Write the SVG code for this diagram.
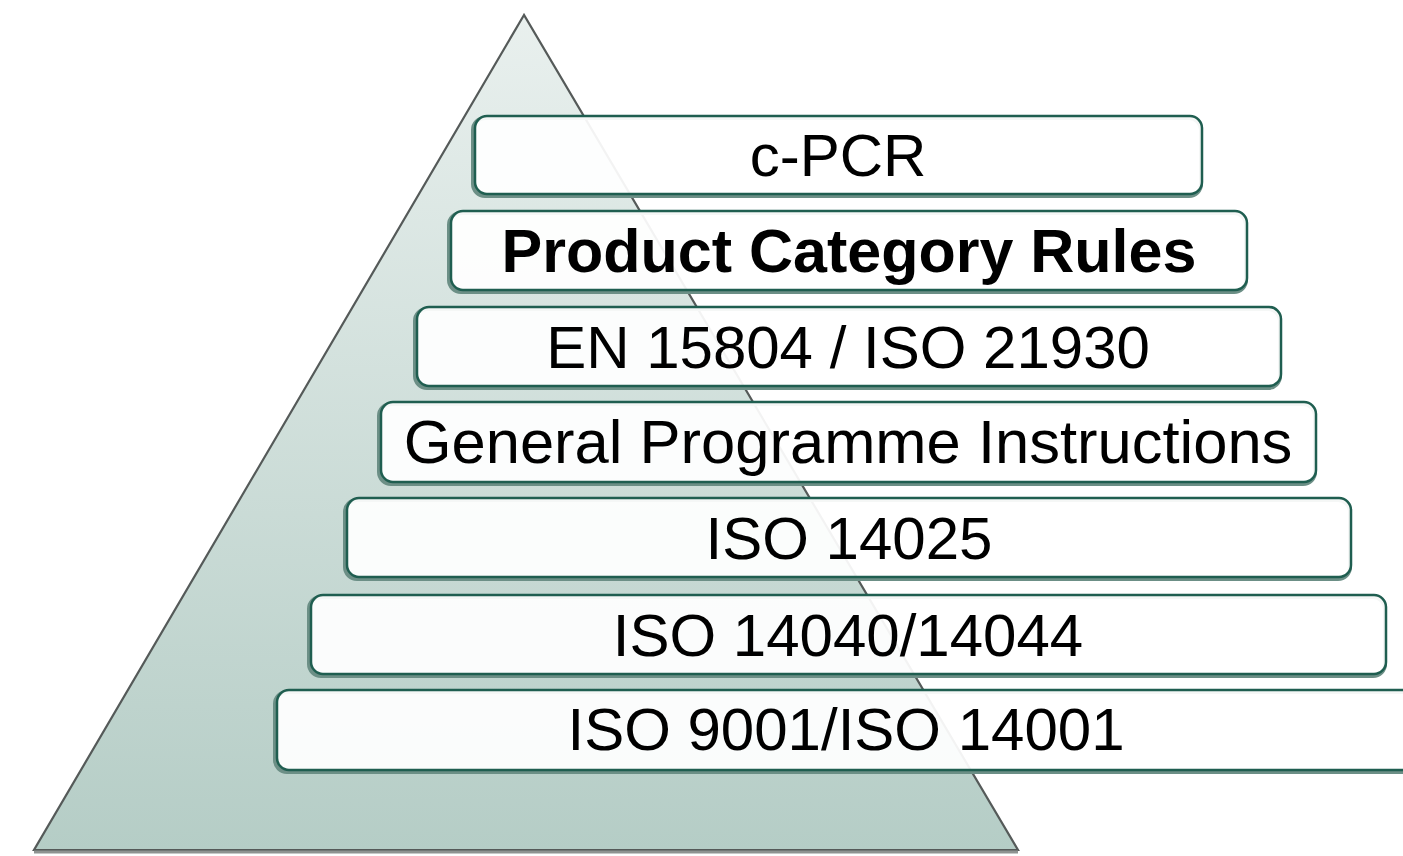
<svg xmlns="http://www.w3.org/2000/svg" width="1403" height="856" viewBox="0 0 1403 856">
<defs>
<linearGradient id="tg" x1="0" y1="0" x2="0" y2="1">
<stop offset="0" stop-color="#e9f0ee"/>
<stop offset="1" stop-color="#b5cdc6"/>
</linearGradient>
<style>
.sh{fill:none;stroke:#6c8f86;stroke-width:4}
.bx{fill:#ffffff;fill-opacity:0.93;stroke:#1f5e50;stroke-width:2.5}
.t{font-family:"Liberation Sans",Arial,sans-serif;font-size:60px;fill:#000;text-anchor:middle}
.b{font-weight:bold;font-size:61px}
.w{font-size:61.5px}
</style>
</defs>
<g id="pyramid">
<polygon points="524,15 34,850 1018,850" fill="url(#tg)" stroke="#555a59" stroke-width="2.2"/>
<line x1="34" y1="852" x2="1018" y2="852" stroke="#8e9391" stroke-width="3"/>
</g>
<g id="n1"><rect class="sh" x="473" y="118" width="728" height="78" rx="12"/><rect class="bx" x="475" y="116" width="727" height="78" rx="12"/><text class="t" x="838" y="176">c-PCR</text></g>
<g id="n2"><rect class="sh" x="449" y="213" width="797" height="79" rx="12"/><rect class="bx" x="451" y="211" width="796" height="79" rx="12"/><text class="t b" x="849" y="272">Product Category Rules</text></g>
<g id="n3"><rect class="sh" x="415" y="309" width="865" height="79" rx="12"/><rect class="bx" x="417" y="307" width="864" height="79" rx="12"/><text class="t" x="848" y="368">EN 15804 / ISO 21930</text></g>
<g id="n4"><rect class="sh" x="379" y="404" width="936" height="80" rx="12"/><rect class="bx" x="381" y="402" width="935" height="80" rx="12"/><text class="t w" x="848" y="463">General Programme Instructions</text></g>
<g id="n5"><rect class="sh" x="345" y="500" width="1005" height="79" rx="12"/><rect class="bx" x="347" y="498" width="1004" height="79" rx="12"/><text class="t" x="849" y="559">ISO 14025</text></g>
<g id="n6"><rect class="sh" x="309" y="597" width="1076" height="79" rx="12"/><rect class="bx" x="311" y="595" width="1075" height="79" rx="12"/><text class="t" x="848" y="656">ISO 14040/14044</text></g>
<g id="n7"><rect class="sh" x="275" y="692" width="1140" height="80" rx="12"/><rect class="bx" x="277" y="690" width="1140" height="80" rx="12"/><text class="t" x="846" y="750">ISO 9001/ISO 14001</text></g>
<g id="connectors"/>
</svg>
